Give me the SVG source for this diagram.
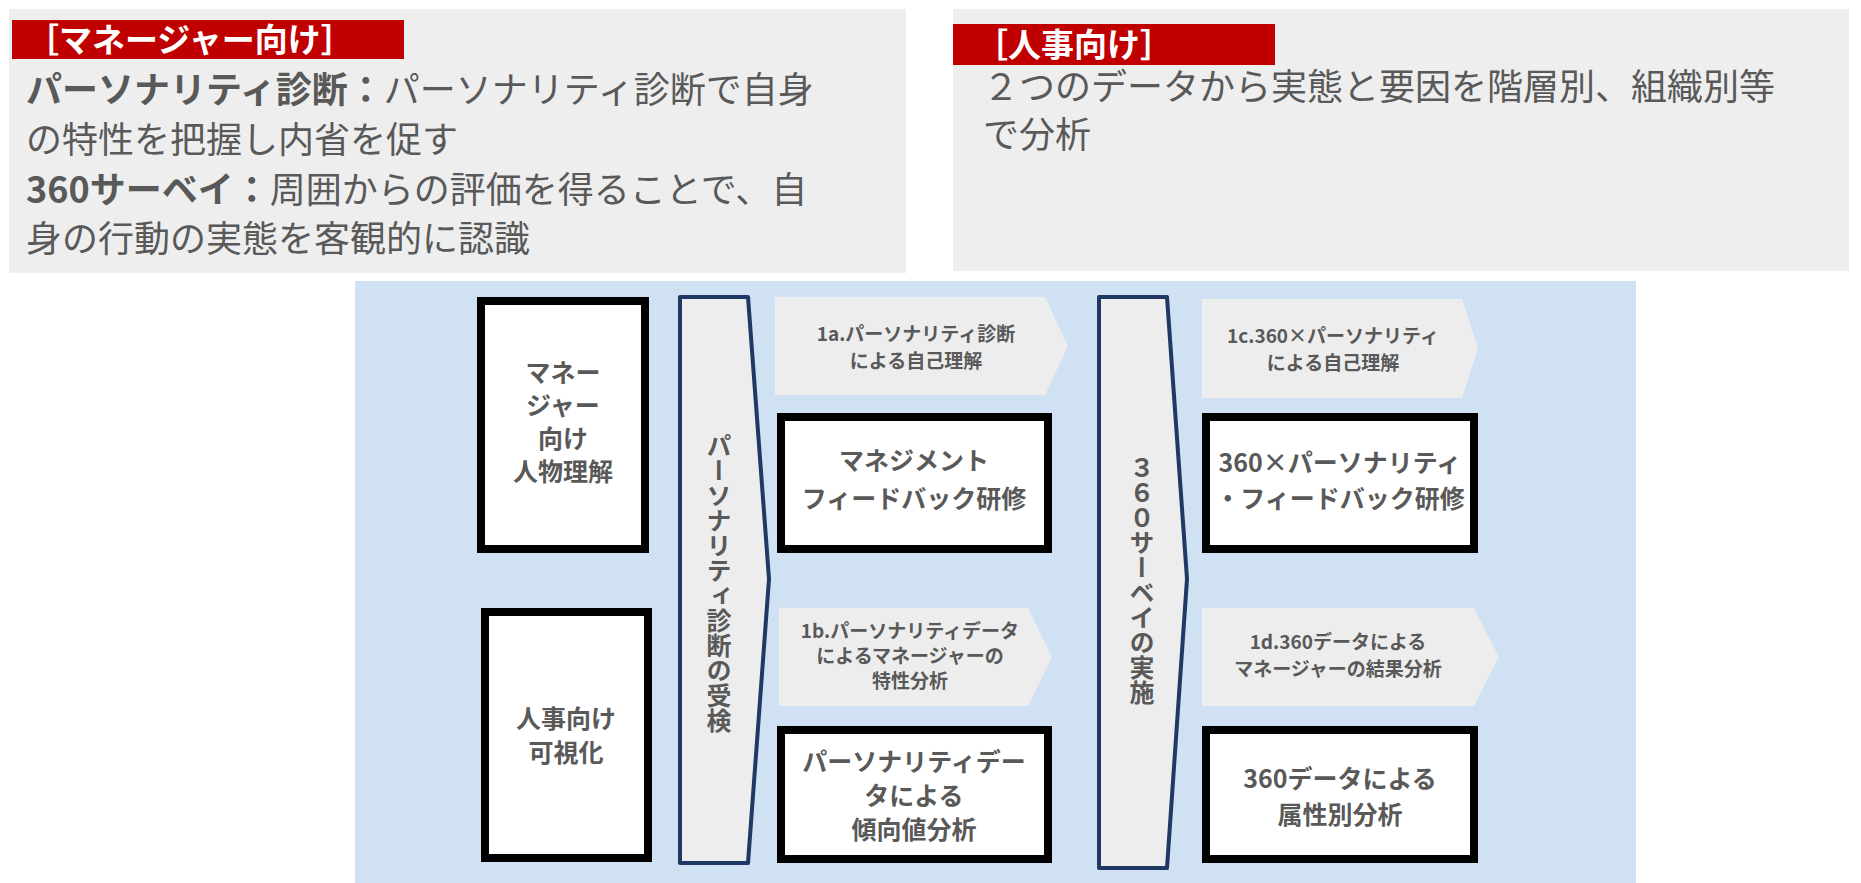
<svg xmlns="http://www.w3.org/2000/svg" width="1861" height="883" viewBox="0 0 1861 883">
<style>
text{font-family:"Noto Sans CJK JP","Noto Sans",sans-serif;fill:#595959}
.b{font-weight:bold}
.box{fill:#fff;stroke:#000;stroke-width:8}
.arr{fill:#ededed}
.chev{fill:#ededed;stroke:#1f3864;stroke-width:4;stroke-linejoin:round}
.n{font-size:25px;font-weight:bold;text-anchor:middle}
.s{font-size:19px;font-weight:bold;text-anchor:middle}
.lab{fill:#fff;font-size:33px;font-weight:bold}
.top{font-size:36px}
</style>
<rect width="1861" height="883" fill="#fff"/>
<g id="panel-manager">
<rect x="9" y="9" width="897" height="264" fill="#eeeeee"/>
<rect x="12" y="20" width="392" height="39" fill="#c00000"/>
<text class="lab" x="26" y="52">［マネージャー向け］</text>
<text class="top" x="26" y="103"><tspan class="b">パーソナリティ診断：</tspan>パーソナリティ診断で自身</text>
<text class="top" x="26" y="153">の特性を把握し内省を促す</text>
<text class="top" x="26" y="203"><tspan class="b">360サーベイ：</tspan>周囲からの評価を得ることで、自</text>
<text class="top" x="26" y="252">身の行動の実態を客観的に認識</text>
</g>
<g id="panel-hr">
<rect x="953" y="9" width="896" height="262" fill="#eeeeee"/>
<rect x="953" y="24" width="322" height="41" fill="#c00000"/>
<text class="lab" x="975" y="57">［人事向け］</text>
<text class="top" x="983" y="100">２つのデータから実態と要因を階層別、組織別等</text>
<text class="top" x="983" y="148">で分析</text>
</g>
<rect x="355" y="281" width="1281" height="602" fill="#cfe1f2"/>
<g id="connectors">
<g id="chev1"><polygon class="chev" points="680,297 748,297 769,579 748,863 680,863"/>
<text class="b" x="719" y="433" font-size="25" style="writing-mode:vertical-rl">パーソナリティ診断の受検</text></g>
<g id="chev2"><polygon class="chev" points="1099,297 1167,297 1187,579 1167,868 1099,868"/>
<text class="b" x="1142" y="455" font-size="25" style="writing-mode:vertical-rl">３６０サーベイの実施</text></g>
</g>
<g id="n-manager"><rect class="box" x="481" y="301" width="164" height="248"/>
<text class="n" x="563" y="382">マネー</text><text class="n" x="563" y="415">ジャー</text><text class="n" x="563" y="448">向け</text><text class="n" x="563" y="481">人物理解</text></g>
<g id="n-hr"><rect class="box" x="485" y="612" width="163" height="246"/>
<text class="n" x="566" y="728">人事向け</text><text class="n" x="566" y="762">可視化</text></g>
<g id="a1a"><polygon class="arr" points="775,297 1045,297 1068,346 1045,395 775,395"/>
<text class="s" x="916" y="341">1a.パーソナリティ診断</text><text class="s" x="916" y="368">による自己理解</text></g>
<g id="n-mgmt"><rect class="box" x="781" y="417" width="267" height="132"/>
<text class="n" x="914" y="470">マネジメント</text><text class="n" x="914" y="508">フィードバック研修</text></g>
<g id="a1b"><polygon class="arr" points="779,608 1028,608 1052,657 1028,706 779,706"/>
<text class="s" x="910" y="638">1b.パーソナリティデータ</text><text class="s" x="910" y="663">によるマネージャーの</text><text class="s" x="910" y="688">特性分析</text></g>
<g id="n-pdata"><rect class="box" x="781" y="730" width="267" height="129"/>
<text class="n" x="914" y="771">パーソナリティデー</text><text class="n" x="914" y="805">タによる</text><text class="n" x="914" y="839">傾向値分析</text></g>
<g id="a1c"><polygon class="arr" points="1202,299 1462,299 1478,348 1462,398 1202,398"/>
<text class="s" x="1333" y="343">1c.360×パーソナリティ</text><text class="s" x="1333" y="370">による自己理解</text></g>
<g id="n-360p"><rect class="box" x="1206" y="417" width="268" height="132"/>
<text class="n" x="1340" y="472" font-size="24">360×パーソナリティ</text><text class="n" x="1340" y="508" font-size="24">・フィードバック研修</text></g>
<g id="a1d"><polygon class="arr" points="1202,608 1474,608 1499,657 1474,706 1202,706"/>
<text class="s" x="1338" y="649">1d.360データによる</text><text class="s" x="1338" y="676">マネージャーの結果分析</text></g>
<g id="n-360d"><rect class="box" x="1206" y="730" width="268" height="129"/>
<text class="n" x="1340" y="788">360データによる</text><text class="n" x="1340" y="824">属性別分析</text></g>
</svg>
